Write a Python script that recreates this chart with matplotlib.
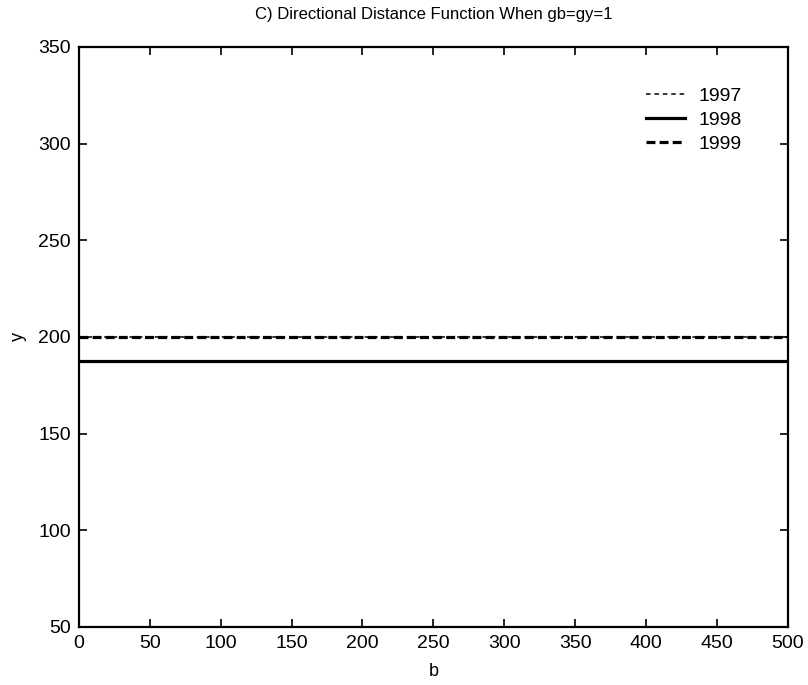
import numpy as np
from matplotlib import pyplot as plt

# directional distance function values, constant over b
b = [0, 100, 200, 300, 400, 500]
y_1997 = [200, 200, 200, 200, 200, 200]
y_1998 = [187.5, 187.5, 187.5, 187.5, 187.5, 187.5]
y_1999 = [200, 200, 200, 200, 200, 200]

xticks = [0, 50, 100, 150, 200, 250, 300, 350, 400, 450, 500]
yticks = [50, 100, 150, 200, 250, 300, 350]

plt.rcParams['font.family'] = ['Liberation Sans Narrow', 'Liberation Sans', 'DejaVu Sans']

fig = plt.figure(figsize=(8.08, 6.85), dpi=100)
ax = fig.add_axes([0.0978, 0.0847, 0.877, 0.8467])

ax.plot(b, y_1997, color='black', linestyle=(0, (3, 2.5)), linewidth=1.1, label='1997')
ax.plot(b, y_1998, color='black', linestyle='-', linewidth=2.3, label='1998')
ax.plot(b, y_1999, color='black', linestyle=(0, (2.8, 1.3)), linewidth=2.3, label='1999')

ax.set_xlim(0, 500)
ax.set_ylim(50, 350)
ax.set_xticks(xticks)
ax.set_yticks(yticks)
ax.tick_params(direction='in', length=6, width=1.2, top=True, right=True, labelsize=14)
ax.tick_params(axis='x', pad=6)
ax.tick_params(axis='y', pad=6)
for s in ax.spines.values():
    s.set_linewidth(1.6)

ax.set_title('C) Directional Distance Function When gb=gy=1', fontsize=12, pad=20)
ax.set_xlabel('b', fontsize=13, labelpad=8)
ax.set_ylabel('y', fontsize=13, labelpad=8)

ax.legend(loc='upper right', frameon=False, fontsize=14, handlelength=2.0,
          handletextpad=0.7, labelspacing=0.32, bbox_to_anchor=(0.96, 0.96))

plt.savefig('out.png', dpi=100)
